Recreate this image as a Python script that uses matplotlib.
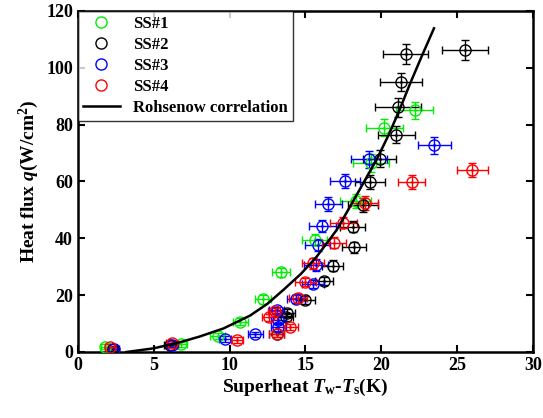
import matplotlib
matplotlib.use("Agg")
import matplotlib.pyplot as plt

plt.rcParams['font.family'] = ['Liberation Serif', 'DejaVu Serif']
plt.rcParams['mathtext.fontset'] = 'custom'
plt.rcParams['mathtext.rm'] = 'Liberation Serif:bold'
plt.rcParams['mathtext.it'] = 'Liberation Serif:bold:italic'
plt.rcParams['mathtext.bf'] = 'Liberation Serif:bold'

# ---- data ----
ss1_x = [1.8, 6.8, 9.2, 10.7, 12.2, 13.4, 15.6, 18.3, 19.3, 20.2, 22.2]
ss1_y = [1.9, 2.7, 5.6, 10.7, 18.5, 28.0, 39.5, 53.1, 66.5, 79.0, 85.0]
ss1_xe = [0.3, 0.4, 0.5, 0.5, 0.5, 0.6, 0.8, 1.0, 1.2, 1.2, 1.2]
ss1_ye = [0.8, 0.8, 1.0, 1.2, 1.5, 1.5, 2.0, 2.5, 3.0, 3.0, 3.0]

ss2_x = [2.3, 6.1, 13.1, 13.7, 13.8, 15.0, 16.2, 16.8, 18.2, 18.1, 18.8, 19.25, 19.9, 21.0, 21.1, 21.3, 21.6, 25.5]
ss2_y = [1.2, 2.5, 6.2, 12.2, 13.8, 18.3, 25.0, 30.4, 36.8, 44.1, 51.7, 59.9, 68.0, 76.4, 86.1, 95.0, 104.9, 106.3]
ss2_xe = [0.3, 0.4, 0.5, 0.5, 0.5, 0.6, 0.6, 0.7, 0.8, 0.8, 1.0, 1.0, 1.1, 1.2, 1.5, 1.4, 1.5, 1.5]
ss2_ye = [0.8, 0.8, 1.0, 1.2, 1.2, 1.5, 1.5, 2.0, 2.0, 2.0, 2.5, 2.5, 3.0, 3.0, 3.3, 3.3, 3.4, 3.4]

ss3_x = [2.4, 6.2, 9.7, 11.7, 13.2, 13.2, 13.1, 14.4, 15.5, 15.7, 15.8, 16.1, 16.5, 17.6, 19.2, 23.5]
ss3_y = [1.0, 2.4, 4.6, 6.2, 8.7, 11.3, 14.8, 18.6, 23.9, 30.6, 37.6, 44.3, 52.1, 60.2, 67.8, 72.8]
ss3_xe = [0.3, 0.4, 0.4, 0.5, 0.5, 0.5, 0.5, 0.6, 0.7, 0.8, 0.8, 0.9, 0.9, 1.0, 1.2, 1.1]
ss3_ye = [0.8, 0.8, 1.0, 1.0, 1.2, 1.2, 1.2, 1.5, 1.5, 2.0, 2.0, 2.0, 2.5, 2.5, 3.0, 3.0]

ss4_x = [2.1, 6.2, 10.5, 13.1, 14.0, 12.6, 13.0, 14.5, 15.0, 15.5, 16.9, 17.5, 18.9, 22.0, 26.0]
ss4_y = [1.9, 3.0, 4.2, 6.2, 8.8, 12.2, 14.4, 18.9, 24.7, 31.2, 38.5, 45.5, 52.3, 59.9, 64.0]
ss4_xe = [0.3, 0.4, 0.4, 0.5, 0.5, 0.5, 0.5, 0.6, 0.7, 0.7, 0.8, 0.9, 0.9, 0.9, 1.0]
ss4_ye = [0.8, 0.8, 1.0, 1.0, 1.2, 1.2, 1.2, 1.5, 1.5, 2.0, 2.0, 2.0, 2.5, 2.5, 2.5]

roh_x = [3.2, 5.0, 6.7, 8.0, 9.6, 11.34, 12.5, 13.53, 14.7, 15.73, 17.05, 17.93, 18.81, 19.7, 20.5, 21.2, 21.9, 22.65, 23.47]
roh_y = [0.0, 1.3, 3.4, 5.4, 8.3, 12.8, 17.0, 21.8, 27.5, 33.5, 42.9, 51.1, 59.4, 67.8, 76.6, 85.2, 94.5, 103.9, 113.9]

series = [
    ("SS#1", ss1_x, ss1_y, ss1_xe, ss1_ye, "#00ee00"),
    ("SS#2", ss2_x, ss2_y, ss2_xe, ss2_ye, "#000000"),
    ("SS#3", ss3_x, ss3_y, ss3_xe, ss3_ye, "#0000ff"),
    ("SS#4", ss4_x, ss4_y, ss4_xe, ss4_ye, "#ff0000"),
]

fig = plt.figure(figsize=(5.43, 4.18), dpi=100)
ax = fig.add_axes([0.1436, 0.1579, 0.9816 - 0.1436, 0.9737 - 0.1579])

handles = []
for name, x, y, xe, ye, c in series:
    ax.errorbar(x, y, xerr=xe, yerr=ye, fmt='none', ecolor=c, elinewidth=1.0,
                capsize=3, capthick=1.0, zorder=2)
    ax.plot(x, y, 'o', mfc='none', mec=c, ms=8, mew=1.0, zorder=3)
    ax.plot(x, y, '.', color=c, ms=2, zorder=3)
    h, = ax.plot([], [], 'o', mfc='none', mec=c, ms=8, mew=1.0, label=name)
    handles.append(h)

hl, = ax.plot(roh_x, roh_y, '-', color='black', lw=1.8, zorder=4, label='Rohsenow correlation')
handles.append(hl)

ax.set_xlim(0, 30)
ax.set_ylim(0, 120)
ax.set_xticks([0, 5, 10, 15, 20, 25, 30])
ax.set_yticks([0, 20, 40, 60, 80, 100, 120])
ax.tick_params(direction='in', top=True, right=True, length=5, width=1.5, labelsize=13)
for lab in ax.get_xticklabels() + ax.get_yticklabels():
    lab.set_fontweight('bold')
for sp in ax.spines.values():
    sp.set_linewidth(1.8)

ax.set_xlabel(r'Superheat $\it{T}_{\rm w}$-$\it{T}_{\rm s}$(K)', fontsize=14, fontweight='bold', labelpad=2)
ax.set_ylabel(r'Heat flux $\it{q}$(W/cm$^{\rm 2}$)', fontsize=14, fontweight='bold', labelpad=4)

leg = ax.legend(handles=handles, loc='upper left', prop={'weight': 'bold', 'size': 12},
                frameon=True, fancybox=False, edgecolor='black', borderaxespad=0.0,
                handlelength=2.2, labelspacing=0.3, borderpad=0.3)
leg.get_frame().set_linewidth(1.0)

fig.savefig('out.png', dpi=100)
